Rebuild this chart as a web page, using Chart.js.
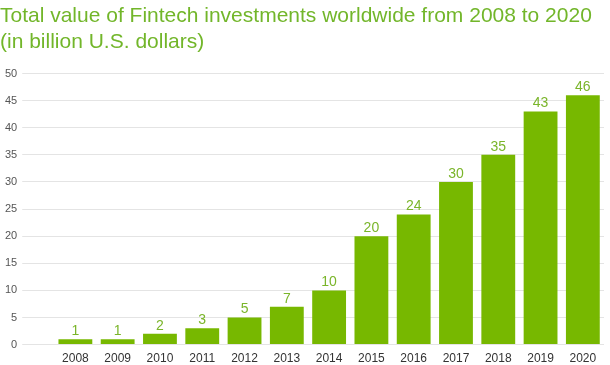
<!DOCTYPE html>
<html>
<head>
<meta charset="utf-8">
<script src="https://cdn.jsdelivr.net/npm/chart.js@4/dist/chart.umd.min.js"></script>
<style>
  html, body { margin: 0; padding: 0; background: #fff; }
  #wrap { width: 610px; height: 365px; }
</style>
</head>
<body>
<div id="wrap"><canvas id="bars"></canvas></div>
<script>
var years = ["2008", "2009", "2010", "2011", "2012", "2013", "2014", "2015", "2016", "2017", "2018", "2019", "2020"];
var investments = [1, 1, 2, 3, 5, 7, 10, 20, 24, 30, 35, 43, 46];
var titleLines = ["Total value of Fintech investments worldwide from 2008 to 2020", "(in billion U.S. dollars)"];

// values above each bar
var valueLabels = {
  id: "valueLabels",
  afterDatasetsDraw: function (chart) {
    var c = chart.ctx;
    var meta = chart.getDatasetMeta(0);
    c.save();
    c.font = "14px 'Liberation Sans', Arial, sans-serif";
    c.fillStyle = "#7ab52a";
    c.textAlign = "center";
    c.textBaseline = "bottom";
    meta.data.forEach(function (bar, i) {
      c.fillText(investments[i], bar.x, bar.y - 1);
    });
    c.restore();
  },
};

var ctx = document.getElementById("bars").getContext("2d");
var myChart = new Chart(ctx, {
  type: "bar",
  data: {
    labels: years,
    datasets: [
      {
        label: "Investments",
        data: investments,
        backgroundColor: "#77b800",
        borderWidth: 0,
        barPercentage: 0.8,
        categoryPercentage: 1,
      },
    ],
  },
  options: {
    responsive: true,
    maintainAspectRatio: false,
    animation: false,
    layout: { padding: { left: 0, right: 6, top: 3, bottom: 0 } },
    plugins: {
      legend: { display: false },
      tooltip: { enabled: false },
      title: {
        display: true,
        text: titleLines,
        align: "start",
        color: "#72b62a",
        font: { family: "'Liberation Sans', Arial, sans-serif", size: 21, weight: "normal", lineHeight: 1.25 },
        padding: { top: 0, bottom: 18 },
      },
    },
    scales: {
      x: {
        grid: { display: false },
        border: { display: false },
        ticks: {
          color: "#333",
          padding: -1,
          font: { family: "'Liberation Sans', Arial, sans-serif", size: 12 },
          maxRotation: 0,
        },
      },
      y: {
        min: 0,
        max: 50,
        ticks: {
          stepSize: 5,
          color: "#555",
          padding: 5,
          font: { family: "'Liberation Sans', Arial, sans-serif", size: 11 },
        },
        grid: { color: "#e4e4e4", lineWidth: 1, tickLength: 32, tickColor: "#e4e4e4" },
        border: { display: false },
      },
    },
  },
  plugins: [valueLabels],
});
</script>
</body>
</html>
